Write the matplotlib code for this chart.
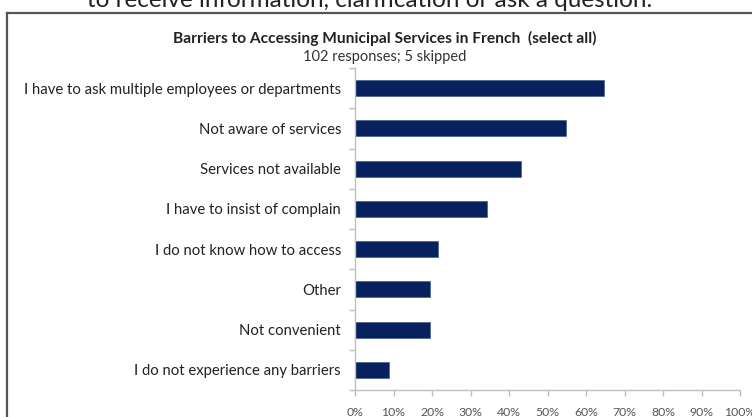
import matplotlib
matplotlib.use("Agg")
import matplotlib.pyplot as plt
from matplotlib.ticker import FixedLocator, PercentFormatter
from matplotlib.lines import Line2D

categories = [
    "I have to ask multiple employees or departments",
    "Not aware of services",
    "Services not available",
    "I have to insist of complain",
    "I do not know how to access",
    "Other",
    "Not convenient",
    "I do not experience any barriers",
]
values = [64.7, 54.9, 43.1, 34.3, 21.6, 19.6, 19.6, 8.8]
xticks = [0, 10, 20, 30, 40, 50, 60, 70, 80, 90, 100]

title = "Barriers to Accessing Municipal Services in French  (select all)"
subtitle = "102 responses; 5 skipped"
top_text = "to receive information, clarification or ask a question."

plt.rcParams['font.family'] = ['Lato', 'DejaVu Sans']

fig = plt.figure(figsize=(7.52, 4.17), dpi=100)
W, H = 752, 417

# frame
fig.add_artist(Line2D([7/W, 7/W], [0, 1 - 13/H], color='#555555', lw=1.6, transform=fig.transFigure))
fig.add_artist(Line2D([7/W, 1], [1 - 13/H, 1 - 13/H], color='#555555', lw=1.6, transform=fig.transFigure))

fig.text(370/W, 1 - 7/H, top_text, ha='center', va='baseline', fontsize=17.5, color='#222222')
fig.text(385/W, 1 - 38/H, title, ha='center', va='center', fontsize=11.2, fontweight='bold', color='#222222')
fig.text(385/W, 1 - 57/H, subtitle, ha='center', va='center', fontsize=10.5, color='#333333')

ax = fig.add_axes([355/W, 27/H, 385/W, (390 - 68)/H])
y = list(range(len(categories)))
ax.barh(y, values, height=0.4, color='#06215E', edgecolor='#3a4f86', linewidth=0.4)
ax.set_ylim(len(categories) - 0.5, -0.5)
ax.set_xlim(0, 100)
ax.set_yticks(y)
ax.set_yticklabels(categories, fontsize=10.75, color='#222222')
ax.tick_params(axis='y', which='major', length=0, pad=10)
ax.yaxis.set_minor_locator(FixedLocator([i - 0.5 for i in range(len(categories) + 1)]))
ax.tick_params(axis='y', which='minor', length=4, color='#bfbfbf', width=1)
ax.set_xticks(xticks)
ax.xaxis.set_major_formatter(PercentFormatter(decimals=0))
ax.tick_params(axis='x', length=4, color='#bfbfbf', width=1, labelsize=8.8, labelcolor='#555555', pad=8)
for s in ['top', 'right']:
    ax.spines[s].set_visible(False)
for s in ['left', 'bottom']:
    ax.spines[s].set_color('#bfbfbf')
    ax.spines[s].set_linewidth(1)

fig.savefig("out.png", dpi=100)
